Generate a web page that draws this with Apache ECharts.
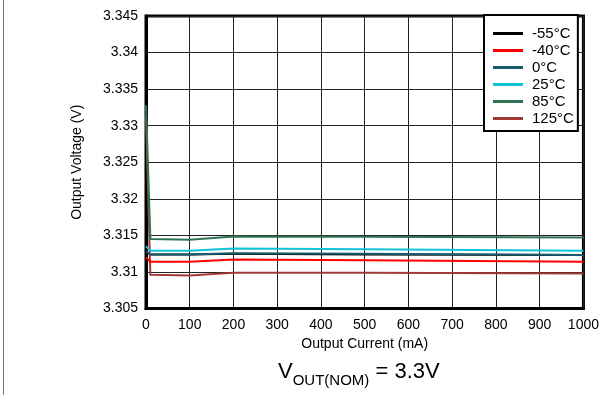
<!DOCTYPE html>
<html>
<head>
<meta charset="utf-8">
<script src="https://cdn.jsdelivr.net/npm/echarts@6/dist/echarts.min.js"></script>
<style>html,body{margin:0;padding:0;background:#fff;}#c{width:602px;height:395px;}</style>
</head>
<body>
<div id="c"></div>
<script>
var currents = [0, 10, 100, 200, 500, 1000];
var vM55 = [3.3127, 3.3124, 3.3124, 3.3125, 3.3124, 3.3123];
var vM40 = [3.3120, 3.3114, 3.3114, 3.3117, 3.3116, 3.3114];
var v0   = [3.3128, 3.3124, 3.3124, 3.31255, 3.3125, 3.3123];
var v25  = [3.3135, 3.3129, 3.3129, 3.3132, 3.3131, 3.3129];
var v85  = [3.3328, 3.3145, 3.3144, 3.31485, 3.3148, 3.3147];
var v125 = [3.3312, 3.3096, 3.3095, 3.3099, 3.3099, 3.3098];
var seriesNames = ['-55°C', '-40°C', '0°C', '25°C', '85°C', '125°C'];
var xTicks = [0, 100, 200, 300, 400, 500, 600, 700, 800, 900, 1000];
var yTicks = ['3.305', '3.31', '3.315', '3.32', '3.325', '3.33', '3.335', '3.34', '3.345'];

var colors = {'-55°C':'#000000','-40°C':'#ff0000','0°C':'#1b5b6e','25°C':'#14c2d6','85°C':'#2e7452','125°C':'#a33a3a'};
var valuesBy = {'-55°C':vM55,'-40°C':vM40,'0°C':v0,'25°C':v25,'85°C':v85,'125°C':v125};
var drawOrder = ['-55°C','125°C','-40°C','0°C','25°C','85°C'];

function pairs(vals){ return currents.map(function(c,i){ return [c, vals[i]]; }); }

var FONT = 'Liberation Sans, Arial, sans-serif';
var chart = echarts.init(document.getElementById('c'), null, {renderer:'canvas'});
chart.setOption({
  animation: false,
  backgroundColor: '#fff',
  grid: {left:146, top:16, right:18, bottom:86.5, show:true, borderColor:'#000', borderWidth:3, backgroundColor:'transparent'},
  title: {
    left: 278, top: 361, padding: 0,
    text: '{v|V}{s|OUT(NOM)}{v| = 3.3V}',
    textStyle: {
      fontWeight: 'normal',
      rich: {
        v: {fontSize: 22, lineHeight: 24, fontFamily: FONT, fontWeight: 'normal', color: '#000', verticalAlign: 'top'},
        s: {fontSize: 15, lineHeight: 15, fontFamily: FONT, fontWeight: 'normal', color: '#000', padding: [12,0,0,0], verticalAlign: 'top'}
      }
    }
  },
  legend: {
    orient: 'vertical', left: 484, top: 15,
    data: seriesNames,
    icon: 'rect', itemWidth: 30, itemHeight: 3, itemGap: 0,
    padding: [10, 4, 4, 9],
    backgroundColor: '#fff', borderColor: '#000', borderWidth: 2,
    textStyle: {fontSize: 15, fontFamily: FONT, color: '#000', lineHeight: 17, padding: [0,0,0,4]}
  },
  xAxis: {
    type: 'value', min: 0, max: 1000, interval: 100,
    name: 'Output Current (mA)', nameLocation: 'middle', nameGap: 27,
    nameTextStyle: {fontSize: 14, fontFamily: FONT, color: '#000'},
    axisLine: {show: true, lineStyle: {color: '#000', width: 3}},
    axisTick: {show: false},
    axisLabel: {fontSize: 14, fontFamily: FONT, color: '#000', margin: 10,
      formatter: function(v){ return xTicks.indexOf(v) >= 0 ? String(v) : ''; }},
    splitLine: {show: true, lineStyle: {color: '#222', width: 1}}
  },
  yAxis: {
    type: 'value', min: 3.305, max: 3.345, interval: 0.005,
    name: 'Output Voltage (V)', nameLocation: 'middle', nameGap: 62,
    nameTextStyle: {fontSize: 14, fontFamily: FONT, color: '#000'},
    axisLine: {show: true, lineStyle: {color: '#000', width: 3}},
    axisTick: {show: false},
    axisLabel: {fontSize: 14, fontFamily: FONT, color: '#000', margin: 8,
      formatter: function(v){ var i = Math.round((v - 3.305) / 0.005); return yTicks[i] || ''; }},
    splitLine: {show: true, lineStyle: {color: '#222', width: 1}}
  },
  graphic: [{
    type: 'line', shape: {x1: 3.5, y1: 0, x2: 3.5, y2: 395},
    style: {stroke: '#777', lineWidth: 1}, silent: true
  }],
  series: drawOrder.map(function(n){
    return {
      name: n, type: 'line', data: pairs(valuesBy[n]), showSymbol: false, symbol: 'none',
      lineStyle: {color: colors[n], width: 2}, itemStyle: {color: colors[n]}
    };
  })
});
</script>
</body>
</html>
